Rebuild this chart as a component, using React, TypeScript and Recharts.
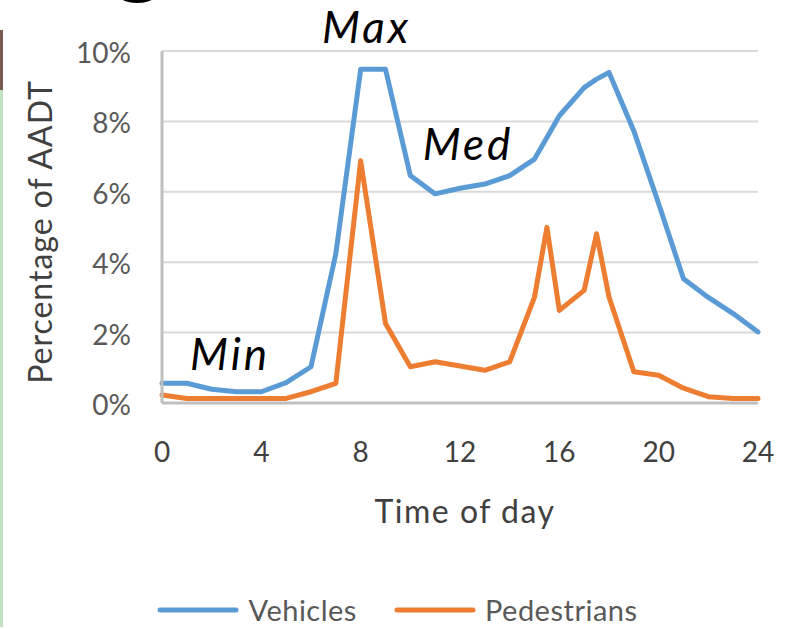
import {
  LineChart,
  Line,
  XAxis,
  YAxis,
  CartesianGrid,
  Legend,
  ReferenceDot,
} from 'recharts';

// hour of day (two half-hour readings around the evening peaks)
const hours = [0, 1, 2, 3, 4, 5, 6, 7, 8, 9, 10, 11, 12, 13, 14, 15, 15.5, 16, 17, 17.5, 18, 19, 20, 21, 22, 23, 24];
// share of AADT, in percent
const vehicles = [0.56, 0.56, 0.39, 0.32, 0.32, 0.58, 1.03, 4.24, 9.48, 9.48, 6.46, 5.94, 6.1, 6.22, 6.46, 6.93, 7.54, 8.16, 8.96, 9.2, 9.39, 7.73, 5.66, 3.53, 3.0, 2.54, 2.02];
const pedestrians = [0.23, 0.13, 0.13, 0.13, 0.13, 0.13, 0.32, 0.56, 6.88, 2.26, 1.03, 1.17, 1.05, 0.93, 1.17, 3.01, 4.99, 2.63, 3.2, 4.81, 3.01, 0.89, 0.79, 0.42, 0.18, 0.13, 0.13];

const xTicks = [0, 4, 8, 12, 16, 20, 24];
const yTicks = [0, 2, 4, 6, 8, 10];

// callouts: label, hour and percent where the text starts (baseline)
const notes = [
  { text: 'Max', hour: 6.44, pct: 10.23 },
  { text: 'Med', hour: 10.5, pct: 6.9 },
  { text: 'Min', hour: 1.13, pct: 0.94 },
];

const BLUE = '#5B9BD5';
const ORANGE = '#ED7D31';
const FONT = 'Lato, "Open Sans", sans-serif';

const chartData = hours.map((h, i) => ({
  hour: h,
  vehicles: vehicles[i],
  pedestrians: pedestrians[i],
}));

const renderLegend = () => (
  <div style={{ display: 'flex', justifyContent: 'center', alignItems: 'center', fontFamily: FONT, fontSize: 29, color: '#595959' }}>
    {[
      { name: 'Vehicles', color: BLUE },
      { name: 'Pedestrians', color: ORANGE },
    ].map((item, i) => (
      <div key={item.name} style={{ display: 'flex', alignItems: 'center', marginLeft: i ? 37 : 0 }}>
        <svg width={82} height={8}>
          <line x1={3} y1={4} x2={79} y2={4} stroke={item.color} strokeWidth={5} strokeLinecap="round" />
        </svg>
        <span style={{ marginLeft: 9, letterSpacing: 0.5 }}>{item.name}</span>
      </div>
    ))}
  </div>
);

export default function App() {
  return (
    <div style={{ position: 'absolute', left: 0, top: 0, width: 795, height: 629, overflow: 'hidden', background: '#fff' }}>
      {/* strip of the neighbouring slide on the left edge */}
      <div style={{ position: 'absolute', left: 0, top: 30, width: 3, height: 60, background: '#7a5a50' }} />
      <div style={{ position: 'absolute', left: 0, top: 90, width: 3, height: 537, background: '#bfe3c3' }} />
      {/* tail of the slide title above */}
      <div style={{ position: 'absolute', left: 108, top: -103, fontFamily: '"Liberation Sans", Arial, sans-serif', fontWeight: 'bold', fontSize: 100, lineHeight: '100px', color: '#000' }}>
        g
      </div>

      <LineChart width={795} height={629} data={chartData} margin={{ top: 51, right: 37, left: 0, bottom: 0 }}>
        <CartesianGrid vertical={false} stroke="#d9d9d9" strokeWidth={2} />
        <XAxis
          dataKey="hour"
          type="number"
          domain={[0, 24]}
          ticks={xTicks}
          height={226}
          tickSize={0}
          tickMargin={39}
          axisLine={{ stroke: '#bfbfbf', strokeWidth: 3 }}
          tick={{ fill: '#404040', fontSize: 28, fontFamily: FONT }}
          label={{
            content: ({ viewBox }: any) => (
              <text
                x={viewBox.x + viewBox.width / 2 + 5}
                y={viewBox.y + 120}
                textAnchor="middle"
                fill="#404040"
                fontSize={32}
                fontFamily={FONT}
                letterSpacing={1.5}
              >
                Time of day
              </text>
            ),
          }}
        />
        <YAxis
          type="number"
          domain={[0, 10]}
          ticks={yTicks}
          width={162}
          tickSize={0}
          tickMargin={31}
          tickFormatter={(v) => `${v}%`}
          axisLine={{ stroke: '#bfbfbf', strokeWidth: 3 }}
          tick={{ fill: '#595959', fontSize: 28, fontFamily: FONT, dy: 2 }}
          label={{
            content: ({ viewBox }: any) => {
              const cx = viewBox.x + 52;
              const cy = viewBox.y + viewBox.height / 2 + 5;
              return (
                <text
                  x={cx}
                  y={cy}
                  transform={`rotate(-90, ${cx}, ${cy})`}
                  textAnchor="middle"
                  fill="#404040"
                  fontSize={32}
                  fontFamily={FONT}
                  letterSpacing={1}
                >
                  Percentage of AADT
                </text>
              );
            },
          }}
        />
        <Legend
          layout="horizontal"
          verticalAlign="middle"
          align="center"
          wrapperStyle={{ top: 592, left: 0, width: 795 }}
          content={renderLegend}
        />
        <Line
          type="linear"
          dataKey="vehicles"
          name="Vehicles"
          stroke={BLUE}
          strokeWidth={5}
          strokeLinejoin="round"
          strokeLinecap="round"
          dot={false}
          isAnimationActive={false}
        />
        <Line
          type="linear"
          dataKey="pedestrians"
          name="Pedestrians"
          stroke={ORANGE}
          strokeWidth={5}
          strokeLinejoin="round"
          strokeLinecap="round"
          dot={false}
          isAnimationActive={false}
        />
        {notes.map((n) => (
          <ReferenceDot
            key={n.text}
            x={n.hour}
            y={n.pct}
            r={0}
            ifOverflow="visible"
            label={{
              content: ({ viewBox }: any) => (
                <text
                  x={viewBox.x}
                  y={viewBox.y}
                  fill="#000"
                  fontSize={44}
                  fontStyle="italic"
                  fontFamily={FONT}
                  letterSpacing={3}
                >
                  {n.text}
                </text>
              ),
            }}
          />
        ))}
      </LineChart>
    </div>
  );
}
